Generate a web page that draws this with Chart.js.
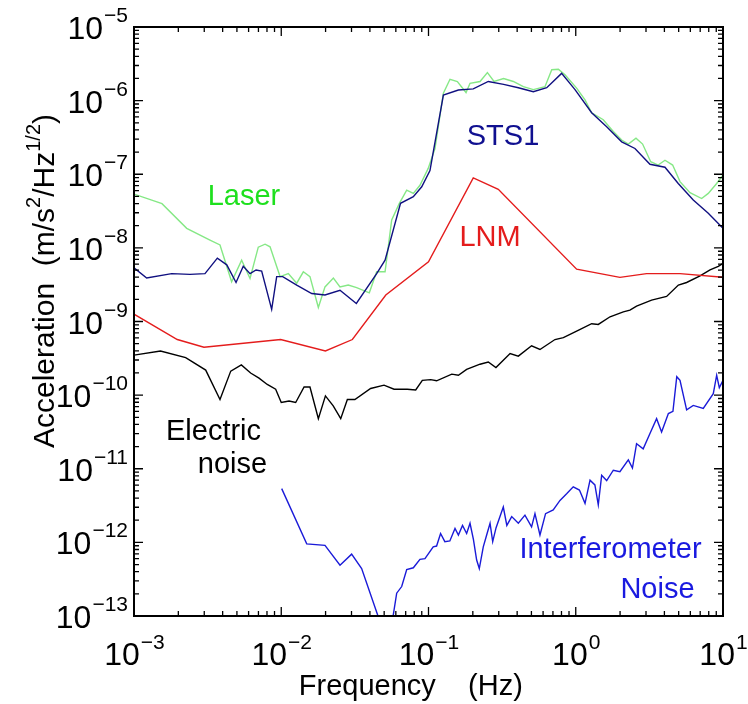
<!DOCTYPE html>
<html lang="en">
<head>
    <meta charset="UTF-8">
    <title>Acceleration noise spectra</title>
    <style>
        body {
            margin: 0;
            padding: 0;
            background: #fff;
        }

        #chartBox {
            width: 748px;
            height: 704px;
        }
    </style>
</head>
<body>
    <div id="chartBox">
        <canvas id="noiseChart"></canvas>
    </div>

    <script src="https://cdn.jsdelivr.net/npm/chart.js"></script>
    <script>
        // Values, as log10(frequency in Hz) and log10(acceleration)
        const stsLogF = [-3.000, -2.914, -2.744, -2.620, -2.518, -2.434, -2.370, -2.307, -2.258, -2.212, -2.171, -2.133, -2.065, -2.031, -1.990, -1.895, -1.793, -1.703, -1.601, -1.490, -1.352, -1.295, -1.190, -1.103, -1.046, -0.990, -0.899, -0.797, -0.696, -0.594, -0.490, -0.390, -0.288, -0.197, -0.096, -0.005, 0.108, 0.210, 0.312, 0.402, 0.504, 0.606, 0.696, 0.798, 0.900, 1.000];
        const stsLogA = [-8.27, -8.41, -8.35, -8.36, -8.35, -8.14, -8.23, -8.47, -8.25, -8.35, -8.30, -8.315, -8.835, -8.39, -8.39, -8.505, -8.62, -8.64, -8.575, -8.755, -8.35, -8.166, -7.395, -7.305, -7.17, -6.95, -5.924, -5.856, -5.84, -5.74, -5.78, -5.825, -5.88, -5.825, -5.63, -5.85, -6.165, -6.355, -6.56, -6.65, -6.865, -6.905, -7.125, -7.35, -7.53, -7.735];

        const laserLogF = [-3.000, -2.810, -2.642, -2.484, -2.416, -2.337, -2.269, -2.212, -2.156, -2.110, -2.076, -2.008, -1.952, -1.895, -1.850, -1.805, -1.748, -1.703, -1.646, -1.601, -1.545, -1.488, -1.402, -1.352, -1.295, -1.250, -1.198, -1.148, -1.103, -1.058, -1.002, -0.956, -0.899, -0.854, -0.804, -0.745, -0.718, -0.650, -0.600, -0.555, -0.490, -0.424, -0.356, -0.288, -0.209, -0.163, -0.118, -0.073, 0.006, 0.063, 0.108, 0.187, 0.255, 0.312, 0.357, 0.409, 0.454, 0.509, 0.560, 0.606, 0.658, 0.708, 0.776, 0.855, 0.900, 0.957, 1.000];
        const laserLogA = [-7.27, -7.40, -7.735, -7.894, -7.96, -8.46, -8.166, -8.415, -7.99, -7.95, -7.985, -8.39, -8.35, -8.48, -8.325, -8.39, -8.81, -8.53, -8.41, -8.53, -8.505, -8.54, -8.61, -8.325, -8.325, -7.62, -7.395, -7.215, -7.26, -7.15, -6.92, -6.65, -5.90, -5.71, -5.74, -5.89, -5.765, -5.74, -5.62, -5.74, -5.70, -5.74, -5.81, -5.85, -5.81, -5.58, -5.575, -5.65, -5.83, -5.99, -6.165, -6.26, -6.42, -6.535, -6.59, -6.51, -6.59, -6.83, -6.875, -6.81, -6.875, -7.10, -7.25, -7.33, -7.26, -7.125, -7.01];

        const lnmLogF = [-3.000, -2.706, -2.525, -2.004, -1.700, -1.517, -1.290, -1.000, -0.696, -0.526, 0.006, 0.300, 0.481, 0.708, 1.000];
        const lnmLogA = [-8.90, -9.245, -9.35, -9.245, -9.40, -9.245, -8.64, -8.19, -7.05, -7.205, -8.29, -8.40, -8.35, -8.35, -8.40];

        const elecLogF = [-3.000, -2.820, -2.649, -2.513, -2.416, -2.343, -2.271, -2.208, -2.151, -2.095, -2.038, -2.000, -1.947, -1.902, -1.845, -1.805, -1.748, -1.700, -1.647, -1.596, -1.551, -1.500, -1.393, -1.302, -1.234, -1.144, -1.087, -1.042, -0.985, -0.945, -0.842, -0.797, -0.741, -0.650, -0.594, -0.542, -0.446, -0.390, -0.300, -0.243, -0.141, -0.084, 0.006, 0.108, 0.153, 0.233, 0.323, 0.368, 0.413, 0.515, 0.617, 0.697, 0.753, 0.844, 0.912, 0.968, 1.000];
        const elecLogA = [-9.457, -9.40, -9.49, -9.66, -10.06, -9.674, -9.59, -9.70, -9.77, -9.855, -9.92, -10.10, -10.08, -10.10, -9.89, -9.89, -10.32, -10.01, -10.145, -10.32, -10.06, -10.06, -9.91, -9.864, -9.92, -9.92, -9.93, -9.80, -9.79, -9.805, -9.715, -9.73, -9.65, -9.58, -9.55, -9.625, -9.435, -9.47, -9.33, -9.38, -9.245, -9.22, -9.13, -9.03, -9.04, -8.936, -8.87, -8.845, -8.79, -8.71, -8.66, -8.505, -8.47, -8.38, -8.30, -8.25, -8.21];

        const ifoLogF = [-1.997, -1.827, -1.703, -1.601, -1.522, -1.454, -1.300, -1.260, -1.216, -1.182, -1.148, -1.103, -1.058, -1.024, -0.968, -0.945, -0.918, -0.889, -0.855, -0.820, -0.797, -0.769, -0.741, -0.718, -0.695, -0.673, -0.655, -0.628, -0.605, -0.582, -0.564, -0.541, -0.492, -0.468, -0.435, -0.390, -0.345, -0.300, -0.277, -0.243, -0.205, -0.153, -0.107, -0.062, -0.017, 0.025, 0.063, 0.097, 0.130, 0.153, 0.176, 0.210, 0.255, 0.300, 0.357, 0.385, 0.413, 0.458, 0.504, 0.549, 0.583, 0.629, 0.660, 0.686, 0.708, 0.753, 0.798, 0.866, 0.934, 0.957, 0.975, 1.000];
        const ifoLogA = [-11.27, -12.02, -12.04, -12.31, -12.16, -12.355, -13.25, -13.25, -12.69, -12.60, -12.37, -12.345, -12.23, -12.22, -12.06, -12.05, -11.88, -11.99, -11.98, -11.81, -11.90, -11.77, -11.88, -11.74, -11.96, -12.24, -12.355, -12.06, -11.90, -11.74, -11.99, -11.80, -11.52, -11.77, -11.65, -11.74, -11.63, -11.79, -11.61, -11.90, -11.61, -11.56, -11.43, -11.34, -11.245, -11.29, -11.47, -11.155, -11.22, -11.49, -11.09, -11.16, -11.02, -11.04, -10.88, -10.99, -10.66, -10.73, -10.52, -10.32, -10.50, -10.25, -10.22, -9.75, -9.80, -10.20, -10.14, -10.18, -9.98, -9.73, -9.90, -9.80];

        // Axis decades and the text labels inside the plot
        const xDecades = [-3, -2, -1, 0, 1];
        const yDecades = [-13, -12, -11, -10, -9, -8, -7, -6, -5];
        const notes = [
            { text: 'Laser', logF: -2.253, logA: -7.418, color: '#1ee01e' },
            { text: 'STS1', logF: -0.494, logA: -6.603, color: '#101090' },
            { text: 'LNM', logF: -0.582, logA: -7.976, color: '#e41c1c' },
            { text: 'Electric', logF: -2.460, logA: -10.611, color: '#000000' },
            { text: 'noise', logF: -2.331, logA: -11.060, color: '#000000' },
            { text: 'Interferometer', logF: 0.236, logA: -12.215, color: '#1a1ae0' },
            { text: 'Noise', logF: 0.555, logA: -12.760, color: '#1a1ae0' }
        ];

        const FONT = '"Liberation Sans", Arial, sans-serif';

        function toPoints(logF, logA) {
            return logF.map((f, i) => ({ x: Math.pow(10, f), y: Math.pow(10, logA[i]) }));
        }

        function expText(e) {
            return e < 0 ? '\u2212' + (-e) : String(e);
        }

        // Draws the box, inward ticks, power-of-ten labels, axis titles and notes
        const axisDeco = {
            id: 'axisDeco',
            afterDatasetsDraw(chart) {
                const ctx = chart.ctx;
                const a = chart.chartArea;
                const xs = chart.scales.x;
                const ys = chart.scales.y;
                ctx.save();

                // ticks
                ctx.strokeStyle = '#000';
                ctx.lineWidth = 1.3;
                ctx.beginPath();
                for (let e = xDecades[0]; e <= xDecades[xDecades.length - 1]; e++) {
                    for (let m = 1; m <= 9; m++) {
                        if (e === xDecades[xDecades.length - 1] && m > 1) break;
                        const px = xs.getPixelForValue(m * Math.pow(10, e));
                        const len = m === 1 ? 9 : 5;
                        ctx.moveTo(px, a.bottom); ctx.lineTo(px, a.bottom - len);
                        ctx.moveTo(px, a.top); ctx.lineTo(px, a.top + len);
                    }
                }
                for (let e = yDecades[0]; e <= yDecades[yDecades.length - 1]; e++) {
                    for (let m = 1; m <= 9; m++) {
                        if (e === yDecades[yDecades.length - 1] && m > 1) break;
                        const py = ys.getPixelForValue(m * Math.pow(10, e));
                        const len = m === 1 ? 9 : 5;
                        ctx.moveTo(a.left, py); ctx.lineTo(a.left + len, py);
                        ctx.moveTo(a.right, py); ctx.lineTo(a.right - len, py);
                    }
                }
                ctx.stroke();

                // frame
                ctx.lineWidth = 2;
                ctx.strokeRect(a.left, a.top, a.right - a.left, a.bottom - a.top);

                // tick labels
                ctx.fillStyle = '#000';
                ctx.textBaseline = 'alphabetic';
                ctx.textAlign = 'left';
                const big = '32px ' + FONT;
                const small = '21px ' + FONT;
                xDecades.forEach(e => {
                    const px = xs.getPixelForValue(Math.pow(10, e));
                    ctx.font = big;
                    const w10 = ctx.measureText('10').width;
                    ctx.font = small;
                    const wE = ctx.measureText(expText(e)).width;
                    const x0 = px - (w10 + wE) / 2;
                    ctx.font = big;
                    ctx.fillText('10', x0, a.bottom + 49);
                    ctx.font = small;
                    ctx.fillText(expText(e), x0 + w10 + 1, a.bottom + 33);
                });
                yDecades.forEach(e => {
                    const py = ys.getPixelForValue(Math.pow(10, e));
                    ctx.font = big;
                    const w10 = ctx.measureText('10').width;
                    ctx.font = small;
                    const wE = ctx.measureText(expText(e)).width;
                    const x0 = a.left - 7 - wE - w10;
                    ctx.font = big;
                    ctx.fillText('10', x0, py + 12);
                    ctx.font = small;
                    ctx.fillText(expText(e), x0 + w10 + 1, py - 5);
                });

                // x title
                ctx.font = '29px ' + FONT;
                ctx.textAlign = 'center';
                ctx.fillText('Frequency    (Hz)', a.left + (a.right - a.left) * 0.47, a.bottom + 79);

                // y title, rotated, with superscripts
                const parts = [
                    { t: 'Acceleration  (m/s', sup: false },
                    { t: '2', sup: true },
                    { t: '/Hz', sup: false },
                    { t: '1/2', sup: true },
                    { t: ')', sup: false }
                ];
                let total = 0;
                parts.forEach(p => {
                    ctx.font = (p.sup ? '20px ' : '30px ') + FONT;
                    p.w = ctx.measureText(p.t).width;
                    total += p.w;
                });
                ctx.translate(54, 281);
                ctx.rotate(-Math.PI / 2);
                ctx.textAlign = 'left';
                let cx = -total / 2;
                parts.forEach(p => {
                    ctx.font = (p.sup ? '20px ' : '30px ') + FONT;
                    ctx.fillText(p.t, cx, p.sup ? -14 : 0);
                    cx += p.w;
                });
                ctx.setTransform(1, 0, 0, 1, 0, 0);

                // notes inside the plot
                ctx.font = '29px ' + FONT;
                ctx.textAlign = 'center';
                notes.forEach(n => {
                    ctx.fillStyle = n.color;
                    ctx.fillText(n.text, xs.getPixelForValue(Math.pow(10, n.logF)), ys.getPixelForValue(Math.pow(10, n.logA)));
                });
                ctx.restore();
            }
        };

        const lineStyle = { borderWidth: 1.4, pointRadius: 0, fill: false, tension: 0 };

        new Chart(document.getElementById('noiseChart'), {
            type: 'line',
            data: {
                datasets: [
                    { label: 'STS1', data: toPoints(stsLogF, stsLogA), borderColor: '#101080', ...lineStyle },
                    { label: 'Laser', data: toPoints(laserLogF, laserLogA), borderColor: '#86e886', ...lineStyle },
                    { label: 'LNM', data: toPoints(lnmLogF, lnmLogA), borderColor: '#e41c1c', ...lineStyle },
                    { label: 'Electric noise', data: toPoints(elecLogF, elecLogA), borderColor: '#000000', ...lineStyle },
                    { label: 'Interferometer Noise', data: toPoints(ifoLogF, ifoLogA), borderColor: '#1a1ad8', ...lineStyle }
                ]
            },
            options: {
                responsive: true,
                maintainAspectRatio: false,
                animation: false,
                layout: { padding: { left: 134, right: 25, top: 27, bottom: 88 } },
                plugins: { legend: { display: false }, tooltip: { enabled: false } },
                scales: {
                    x: { type: 'logarithmic', min: 1e-3, max: 10, display: false },
                    y: { type: 'logarithmic', min: 1e-13, max: 1e-5, display: false }
                }
            },
            plugins: [axisDeco]
        });
    </script>
</body>
</html>
